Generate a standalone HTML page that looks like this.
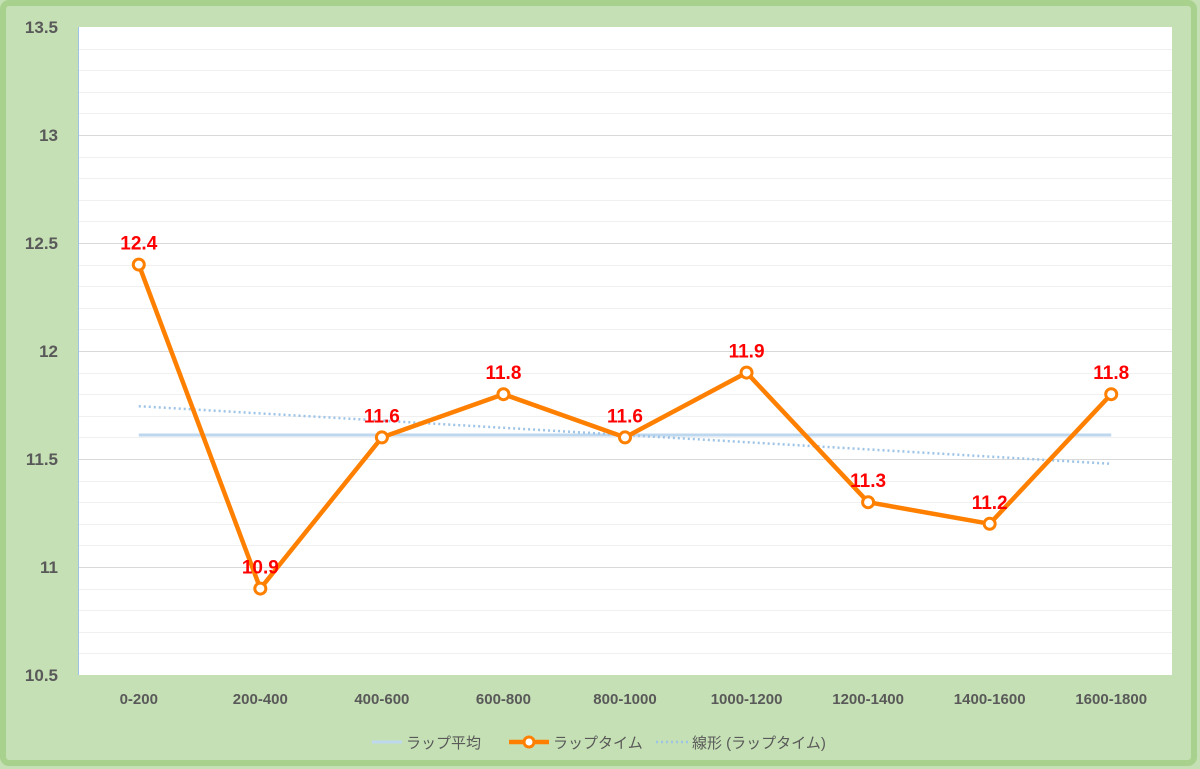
<!DOCTYPE html>
<html><head><meta charset="utf-8"><style>
html,body{margin:0;padding:0;background:#c5e0b4;}
svg{display:block;font-family:"Liberation Sans","Noto Sans CJK JP",sans-serif;}
</style></head><body>
<svg id="chart" width="1200" height="769" viewBox="0 0 1200 769" xmlns="http://www.w3.org/2000/svg">
<rect x="3" y="3" width="1191" height="760" fill="#c5e0b4" stroke="#a9d18e" stroke-width="6" rx="6"/>
<rect x="78" y="27" width="1094" height="648" fill="#ffffff"/>
<g id="grid"></g>
<line x1="78.5" y1="27" x2="78.5" y2="675" stroke="#9dc3e6" stroke-width="1"/>
<g id="ylabels"></g>
<g id="xlabels"></g>
<g id="series"></g>
<g id="legend" font-size="15" fill="#595959">
<line x1="372" y1="742" x2="402" y2="742" stroke="#bdd7ee" stroke-width="3"/>
<text x="406" y="748">ラップ平均</text>
<line x1="509" y1="742" x2="549" y2="742" stroke="#ff8000" stroke-width="4.5"/>
<circle cx="529" cy="742" r="5" fill="#fff" stroke="#ff8000" stroke-width="3"/>
<text x="553" y="748">ラップタイム</text>
<line x1="656" y1="742" x2="688" y2="742" stroke="#9dc3e6" stroke-width="2.5" stroke-dasharray="2,3"/>
<text x="692" y="748">線形 (ラップタイム)</text>
</g>
</svg>
<script>
const categories = ["0-200","200-400","400-600","600-800","800-1000","1000-1200","1200-1400","1400-1600","1600-1800"];
const lapTimes = [12.4,10.9,11.6,11.8,11.6,11.9,11.3,11.2,11.8];
const yTicks = [10.5,11,11.5,12,12.5,13,13.5];
const NS="http://www.w3.org/2000/svg";
const X0=78,X1=1172,Y0=675,Y1=27,YMIN=10.5,YMAX=13.5;
const xs=i=>X0+(X1-X0)/categories.length*(i+0.5);
const ys=v=>Y0-(v-YMIN)/(YMAX-YMIN)*(Y0-Y1);
function mk(tag,attrs,parent){const e=document.createElementNS(NS,tag);for(const k in attrs)e.setAttribute(k,attrs[k]);document.getElementById(parent).appendChild(e);return e;}
// grid
for(let k=1;k<30;k++){const v=YMIN+k*0.1;const y=Math.round(ys(v))+0.5;const major=k%5===0;
const l=mk("line",{x1:X0,x2:X1,y1:y,y2:y,stroke:major?"#d9d9d9":"#f0f0f0","stroke-width":1},"grid");

}
yTicks.forEach(v=>{const t=mk("text",{x:58,y:ys(v)+6,"text-anchor":"end","font-size":"17","font-weight":"bold",fill:"#595959"},"ylabels");t.textContent=v;

});
categories.forEach((c,i)=>{const t=mk("text",{x:xs(i),y:704,"text-anchor":"middle","font-size":"15","font-weight":"bold",fill:"#595959"},"xlabels");t.textContent=c;

});
// average
const avg=lapTimes.reduce((a,b)=>a+b,0)/lapTimes.length;
const al=mk("line",{x1:xs(0),x2:xs(categories.length-1),y1:ys(avg),y2:ys(avg),stroke:"#bdd7ee","stroke-width":3},"series");


// trend (least squares)
const n=lapTimes.length;let sx=0,sy=0,sxy=0,sxx=0;lapTimes.forEach((v,i)=>{sx+=i;sy+=v;sxy+=i*v;sxx+=i*i;});
const b=(n*sxy-sx*sy)/(n*sxx-sx*sx),a=(sy-b*sx)/n;
const tl=mk("line",{x1:xs(0),x2:xs(n-1),y1:ys(a),y2:ys(a+b*(n-1)),stroke:"#9dc3e6","stroke-width":2.5,"stroke-dasharray":"2,3"},"series");


// lap line
const pl=mk("polyline",{points:lapTimes.map((v,i)=>xs(i)+","+ys(v)).join(" "),fill:"none",stroke:"#ff8000","stroke-width":4.5,"stroke-linejoin":"round"},"series");


lapTimes.forEach((v,i)=>{const c=mk("circle",{cx:xs(i),cy:ys(v),r:5.5,fill:"#fff",stroke:"#ff8000","stroke-width":3},"series");


const t=mk("text",{x:xs(i),y:ys(v)-15,"text-anchor":"middle","font-size":"19","font-weight":"bold",fill:"#ff0000"},"series");t.textContent=v.toFixed(1);

});
</script>
</body></html>
